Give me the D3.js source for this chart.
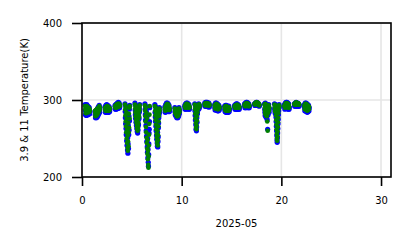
<!DOCTYPE html>
<html>
<head>
<meta charset="utf-8">
<script src="https://cdn.jsdelivr.net/npm/d3@7/dist/d3.min.js"></script>
<style>
  body { margin: 0; background: #fff; }
  svg { display: block; font-family: "DejaVu Sans", sans-serif; }
</style>
</head>
<body>
<script>
// day of month (0-based offset) and observation hours inside each day
const days = [0,1,2,3,4,5,6,7,8,9,10,11,12,13,14,15,16,17,18,19,20,21,22];
const hours = [7.5,8.0,8.5,9.0,9.5,10.0,10.5,11.0,11.5,12.0,12.5,13.0,13.5,14.0,14.5,15.0,15.5,16.0,16.5,17.0,17.5,18.0,18.5,19.0];

// 3.9 um brightness temperature (K), one row per day
const temp39 = [
  [294,287,281,286,293,286,280,287,294,287,281,286,292,286,281,285,291,285,282,286,290,286,282,285],
  [285,281,277,280,286,281,277,282,287,283,278,283,289,284,280,285,291,286,282,287,293,288,284,290],
  [291,287,284,287,293,288,284,288,294,288,285,289,293,288,284,288,292,287,284,287,291,287,285,288],
  [293,290,288,290,294,291,288,291,295,292,289,292,296,292,289,292,297,293,290,293,296,293,290,292],
  [295,285,277,269,292,263,255,281,247,273,241,259,235,251,231,243,267,237,255,279,261,288,273,293],
  [296,287,281,276,293,271,284,267,280,263,275,259,270,257,266,261,274,268,279,283,276,289,285,294],
  [295,288,281,274,292,267,260,285,253,246,278,239,232,250,225,236,219,214,229,243,257,262,272,290],
  [294,284,278,272,291,266,260,282,254,249,276,244,240,258,239,246,252,264,270,277,281,285,290,284],
  [291,287,284,287,294,288,285,289,296,289,285,290,296,290,286,291,295,289,285,289,293,288,285,288],
  [290,285,281,284,289,283,279,282,288,282,277,281,287,281,277,281,288,283,279,283,290,285,282,286],
  [293,290,288,290,295,291,288,291,296,292,289,292,296,292,289,292,295,291,288,291,294,290,288,290],
  [295,286,280,274,292,268,262,283,260,265,277,271,289,282,286,291,294,288,291,295,292,289,293,291],
  [296,293,292,293,297,294,292,294,297,294,292,294,297,294,292,294,296,293,291,293,296,293,291,293],
  [294,290,287,290,296,291,287,291,296,291,287,291,295,290,286,290,294,290,286,289,293,289,287,290],
  [292,288,285,288,293,288,284,288,293,288,284,287,292,287,284,287,291,287,284,287,292,288,285,288],
  [293,290,288,290,294,291,288,291,295,291,288,291,295,291,288,291,294,290,288,290,293,290,288,290],
  [295,292,290,292,296,293,290,293,297,293,291,294,297,293,291,293,296,293,290,292,295,292,290,292],
  [295,294,293,294,296,294,293,295,297,295,294,295,297,295,294,295,296,294,293,294,295,293,292,293],
  [295,288,284,280,296,287,282,278,294,286,281,277,289,274,284,262,287,281,290,284,294,287,284,289],
  [295,289,286,283,294,287,282,278,272,266,260,254,248,245,251,257,263,269,275,281,286,290,294,291],
  [294,291,288,291,296,292,289,292,297,293,289,293,297,292,289,292,296,291,288,291,295,291,288,290],
  [295,293,292,294,296,294,292,294,297,295,293,295,296,294,292,294,296,294,292,294,295,294,292,293],
  [294,290,286,290,296,291,286,290,296,290,285,289,295,289,284,289,294,289,285,289,293,289,286,290]
];

// 11 um brightness temperature (K), one row per day
const temp11 = [
  [292,288,283,287,291,287,283,288,292,288,284,288,291,287,284,287,290,287,284,286,289,287,285,287],
  [286,283,279,282,287,283,280,284,288,285,281,285,289,286,283,287,290,287,285,288,292,289,287,290],
  [290,288,286,288,291,289,286,289,292,289,287,290,292,289,286,289,291,288,286,288,290,288,287,289],
  [292,291,290,291,293,292,290,292,294,292,291,293,295,293,291,293,295,293,292,294,295,294,292,293],
  [294,288,280,272,291,266,258,284,250,276,244,262,238,254,234,246,270,240,258,282,264,290,276,292],
  [294,289,284,279,292,274,286,270,282,266,277,262,272,260,268,264,276,270,281,285,278,290,287,293],
  [293,286,279,272,290,265,258,283,251,244,276,237,230,248,223,234,216,212,227,241,255,269,281,292],
  [292,286,280,274,290,268,262,284,256,251,278,246,243,260,241,248,254,266,272,279,283,287,289,286],
  [290,288,286,288,292,289,287,290,294,290,287,291,295,291,288,292,294,290,287,290,292,289,287,289],
  [289,286,283,286,288,284,281,284,287,283,279,283,286,282,279,283,287,284,281,284,289,286,284,287],
  [292,291,290,291,294,292,290,292,295,293,291,293,295,293,291,293,294,292,290,292,293,292,290,291],
  [294,288,282,276,291,270,264,285,262,267,279,273,290,284,288,292,293,290,292,294,293,291,294,292],
  [295,294,293,294,296,295,294,295,296,295,294,295,296,295,293,295,295,294,293,294,295,294,293,294],
  [293,291,289,291,294,292,289,292,295,292,289,292,294,291,288,291,293,291,288,290,292,290,289,291],
  [291,289,287,289,292,289,286,289,292,289,286,288,291,288,286,288,290,288,286,288,291,289,287,289],
  [292,291,290,291,293,292,290,291,293,292,290,292,294,292,290,292,293,291,290,291,292,291,290,291],
  [294,293,292,293,295,294,292,294,296,294,293,295,296,294,293,294,295,294,292,293,294,293,292,293],
  [295,295,294,295,296,295,295,296,297,296,295,296,297,296,295,296,296,295,294,295,295,294,293,294],
  [294,290,286,282,295,289,284,280,293,288,283,279,290,272,286,260,288,283,291,286,293,289,286,290],
  [294,291,288,285,293,289,284,280,274,268,262,256,250,247,253,259,265,271,277,283,288,291,293,292],
  [293,292,290,292,295,293,291,293,296,294,291,294,296,293,291,293,295,292,290,292,294,292,290,291],
  [295,294,294,295,296,295,294,295,297,296,295,296,296,295,294,295,296,295,294,295,295,295,294,294],
  [293,291,288,291,295,292,288,291,295,291,287,290,294,290,286,290,293,290,287,290,292,290,288,291]
];

const xTicks = [0, 10, 20, 30];
const yTicks = [200, 300, 400];
const xLabel = '2025-05';
const yLabel = '3.9 & 11 Temperature(K)';

const svg = createSVG();
setBaseValue();
drawGrid(svg);
drawSeries(svg, temp39, '#0000ff', 2.6);
drawSeries(svg, temp11, '#008000', 2.3);
drawAxes(svg);

function createSVG(){
  return d3.select(document.body)
    .append('svg')
    .attr('width', 411)
    .attr('height', 248);
}

function setBaseValue(){
  window.base = {};
  base.left = 82;
  base.right = 391;
  base.top = 23;
  base.bottom = 177;
  base.x = d3.scaleLinear().domain([0, 31]).range([base.left, base.right]);
  base.y = d3.scaleLinear().domain([200, 400]).range([base.bottom, base.top]);
}

function toPoints(rows){
  const pts = [];
  rows.forEach((row, d) => {
    row.forEach((t, i) => {
      pts.push({x: days[d] + hours[i] / 24, y: t});
    });
  });
  return pts;
}

function drawGrid(svg){
  const g = svg.append('g').attr('class', 'grid');
  g.selectAll('line.gx')
    .data(xTicks)
    .enter()
    .append('line')
    .attr('x1', d => base.x(d)).attr('x2', d => base.x(d))
    .attr('y1', base.top).attr('y2', base.bottom)
    .attr('stroke', '#e6e6e6').attr('stroke-width', 1.6);
  g.selectAll('line.gy')
    .data(yTicks)
    .enter()
    .append('line')
    .attr('y1', d => base.y(d)).attr('y2', d => base.y(d))
    .attr('x1', base.left).attr('x2', base.right)
    .attr('stroke', '#e6e6e6').attr('stroke-width', 1.6);
}

function drawSeries(svg, rows, color, r){
  svg.append('g')
    .selectAll('circle')
    .data(toPoints(rows))
    .enter()
    .append('circle')
    .attr('cx', d => base.x(d.x))
    .attr('cy', d => base.y(d.y))
    .attr('r', r)
    .attr('fill', color);
}

function drawAxes(svg){
  svg.append('rect')
    .attr('x', base.left).attr('y', base.top)
    .attr('width', base.right - base.left)
    .attr('height', base.bottom - base.top)
    .attr('fill', 'none')
    .attr('stroke', '#000')
    .attr('stroke-width', 1.6);

  const xAxis = svg.append('g')
    .attr('transform', `translate(0, ${base.bottom})`)
    .call(d3.axisBottom(base.x).tickValues(xTicks).tickSize(9).tickPadding(11));
  const yAxis = svg.append('g')
    .attr('transform', `translate(${base.left}, 0)`)
    .call(d3.axisLeft(base.y).tickValues(yTicks).tickSize(10).tickPadding(10));

  [xAxis, yAxis].forEach(a => {
    a.select('.domain').remove();
    a.selectAll('line').attr('stroke-width', 1.6);
    a.selectAll('text')
      .attr('font-family', '"DejaVu Sans", sans-serif')
      .attr('font-size', 10)
      .attr('fill', '#000');
  });

  svg.append('text')
    .attr('x', (base.left + base.right) / 2)
    .attr('y', 223)
    .attr('dy', '0.35em')
    .attr('text-anchor', 'middle')
    .attr('font-size', 10)
    .text(xLabel);

  svg.append('text')
    .attr('transform', `translate(24, ${(base.top + base.bottom) / 2}) rotate(-90)`)
    .attr('dy', '0.35em')
    .attr('text-anchor', 'middle')
    .attr('font-size', 10)
    .text(yLabel);
}
</script>
</body>
</html>
